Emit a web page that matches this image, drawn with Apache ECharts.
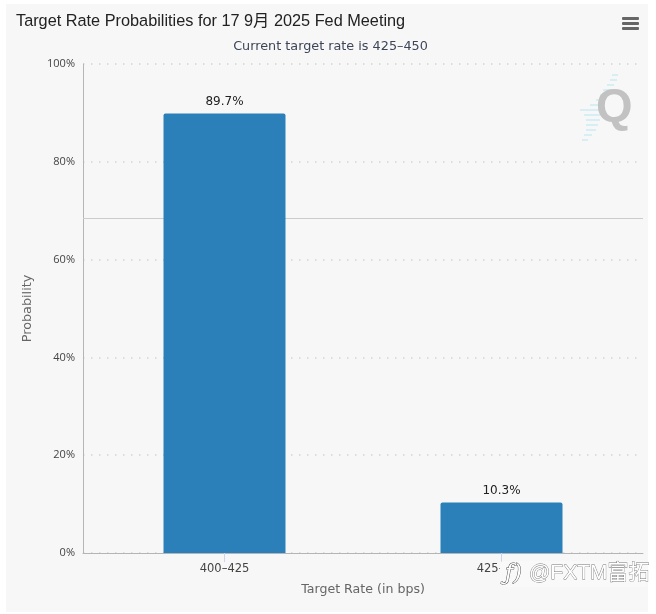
<!DOCTYPE html>
<html><head><meta charset="utf-8">
<style>html,body{margin:0;padding:0;background:#fff}#c{width:656px;height:614px}</style>
<script src="https://cdn.jsdelivr.net/npm/echarts@6/dist/echarts.min.js"></script>
</head><body><div id="c"></div>
<script>
const categories = ['400–425', '425–450'];
const probabilities = [89.7, 10.3];
const yTicks = [0, 20, 40, 60, 80, 100];
const strayLineValue = 68.5;
const FONT = '"DejaVu Sans",sans-serif';
const TICKFONT = '"Open Sans","DejaVu Sans",sans-serif';
const chart = echarts.init(document.getElementById('c'), null, {renderer:'canvas'});
const stripes = [];
[[612,75,618],[610,80,617],[607,85,614],[603,90,611],[600,95,608],[596,100,605],[590,105,602],[580,110,600],[584,115,600],[586,120,600],[586,125,598],[586,130,596],[584,135,592],[582,140,588]].forEach(s=>{
  stripes.push({type:'line',shape:{x1:s[0],y1:s[1],x2:s[2],y2:s[1]},style:{stroke:'#d6eef4',lineWidth:2},z:1});
});
chart.setOption({
  animation:false,
  backgroundColor:'#ffffff',
  title:[
    {text:'Target Rate Probabilities for 17 9月 2025 Fed Meeting',left:11,top:8,textStyle:{fontFamily:'"Liberation Sans","Noto Sans CJK SC",sans-serif',fontSize:16.3,fontWeight:'normal',color:'#222'}},
    {text:'Current target rate is 425–450',left:325.5,textAlign:'center',top:35,textStyle:{fontFamily:FONT,fontSize:12.8,fontWeight:'normal',color:'#3d4658'}}
  ],
  grid:[
    {left:83,right:13,top:64,height:489},
    {left:86,width:554,top:63,height:490}
  ],
  xAxis:[
    {gridIndex:0,type:'value',min:0,max:1,axisLine:{show:true,lineStyle:{color:'#b5b5b5',width:1}},axisTick:{show:false},axisLabel:{show:false},splitLine:{show:false}},
    {gridIndex:1,type:'category',data:categories,name:'Target Rate (in bps)',nameLocation:'middle',nameGap:30,
      nameTextStyle:{fontFamily:FONT,fontSize:12.6,color:'#666'},
      axisLine:{show:false},axisTick:{show:true,alignWithLabel:true,length:9,lineStyle:{color:'#ccd6eb'}},
      axisLabel:{fontFamily:FONT,fontSize:11.5,color:'#444',margin:10},splitLine:{show:false}}
  ],
  yAxis:[
    {gridIndex:0,type:'value',min:0,max:100,interval:20,name:'Probability',nameLocation:'middle',nameGap:49,
      nameTextStyle:{fontFamily:FONT,fontSize:12.8,color:'#666'},
      axisLine:{show:true,lineStyle:{color:'#b5b5b5'}},axisTick:{show:false},
      axisLabel:{fontFamily:TICKFONT,fontSize:11,color:'#444',margin:8,formatter:v=>yTicks.includes(v)?v+'%':''},
      splitLine:{show:true,lineStyle:{color:'#d4d4d4',type:[1.5,6.5],width:1.5}}},
    {gridIndex:1,type:'value',min:0,max:100,show:false,splitLine:{show:false}}
  ],
  series:[
    {type:'line',xAxisIndex:0,yAxisIndex:0,data:[],silent:true,z:1,
      markLine:{silent:true,z:1,symbol:'none',label:{show:false},lineStyle:{color:'#cccccc',type:'solid',width:1},data:[{yAxis:strayLineValue}]}},
    {type:'bar',xAxisIndex:1,yAxisIndex:1,data:probabilities,barWidth:122,z:3,
      itemStyle:{color:'#2b80ba',borderRadius:[2,2,0,0]},
      label:{show:true,position:'top',distance:6,formatter:p=>p.value.toFixed(1)+'%',fontFamily:FONT,fontSize:12,color:'#222'}}
  ],
  graphic:[
    {type:'rect',shape:{x:6,y:4,width:642,height:608},style:{fill:'#f7f7f8'},z:-10,zlevel:-1},
    {type:'rect',shape:{x:622,y:17,width:17,height:3,r:1},style:{fill:'#666'},z:10},
    {type:'rect',shape:{x:622,y:22,width:17,height:3,r:1},style:{fill:'#666'},z:10},
    {type:'rect',shape:{x:622,y:27,width:17,height:3,r:1},style:{fill:'#666'},z:10},
    ...stripes,
    {type:'text',x:596,y:85,style:{text:'Q',font:'bold 47px "Liberation Sans",sans-serif',fill:'#c2c2c2'},z:2},
    {type:'rect',shape:{x:500,y:561,width:148,height:26,r:4},style:{fill:'#f9f9fa'},z:20},
    {type:'text',x:529,y:563,style:{text:'@FXTM富拓',font:'21px "Liberation Sans","Noto Sans CJK SC",sans-serif',fill:'#ffffff',stroke:'#777',lineWidth:0.8},z:21},
    {type:'text',x:505,y:563,style:{text:'ƒ)',font:'italic 22px "DejaVu Serif",serif',fill:'#ffffff',stroke:'#444',lineWidth:0.9},z:21}
  ]
});
</script></body></html>
